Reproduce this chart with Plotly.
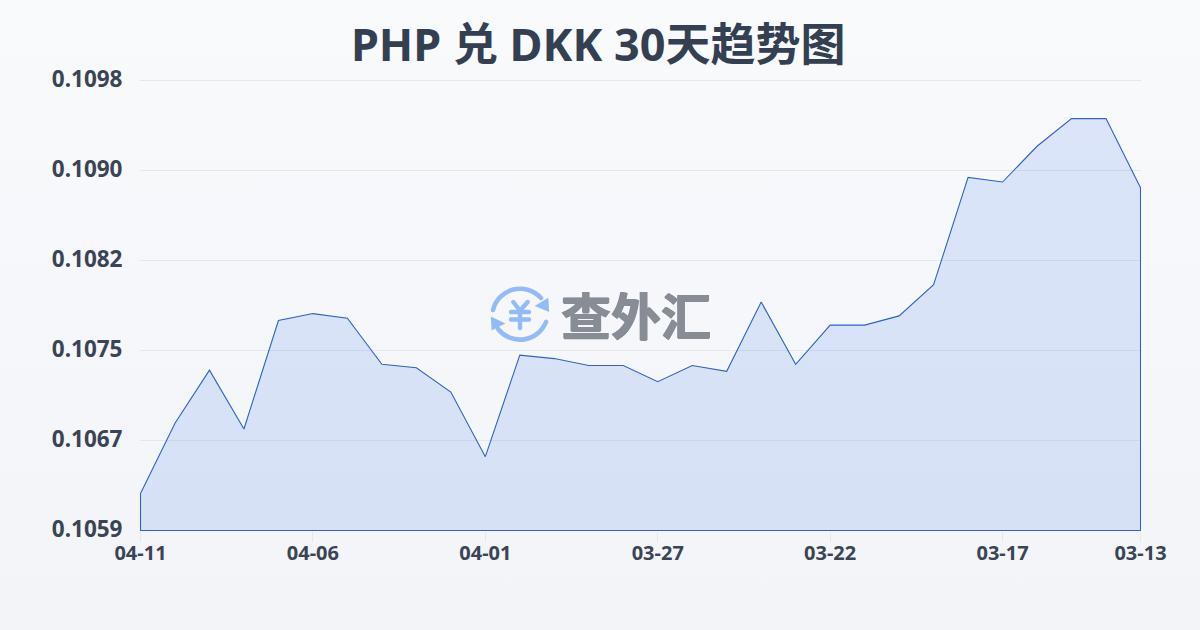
import base64
import plotly.graph_objects as go

dates = ["04-11","04-10","04-09","04-08","04-07","04-06","04-05","04-04","04-03","04-02",
         "04-01","03-31","03-30","03-29","03-28","03-27","03-26","03-25","03-24","03-23",
         "03-22","03-21","03-20","03-19","03-18","03-17","03-16","03-15","03-14","03-13"]
rates = [0.10622,0.10683,0.10729,0.10678,0.10772,0.10778,0.10774,0.10734,0.10731,0.10710,
         0.10654,0.10742,0.10739,0.10733,0.10733,0.10719,0.10733,0.10728,0.10788,0.10734,
         0.10768,0.10768,0.10776,0.10803,0.10896,0.10892,0.10923,0.10947,0.10947,0.10887]
x_ticks = ["04-11","04-06","04-01","03-27","03-22","03-17","03-13"]
y_min, y_max = 0.1059, 0.1098
y_ticks = [0.1059,0.10668,0.10746,0.10824,0.10902,0.1098]
y_labels = ["0.1059","0.1067","0.1075","0.1082","0.1090","0.1098"]
title = "PHP 兑 DKK 30天趋势图"
watermark = "查外汇"

FONT = "'Noto Sans','Noto Sans CJK SC',sans-serif"
W, H = 1200, 630
L, T, PW, PH = 140, 80, 1001, 451
x_pad = 0.5 * (len(dates) - 1) / (PW - 1)
y_pad = 0.5 * (y_max - y_min) / (PH - 1)

def uri(svg):
    return "data:image/svg+xml;base64," + base64.b64encode(svg.encode()).decode()

bg = f'''<svg xmlns="http://www.w3.org/2000/svg" width="{W}" height="{H}" preserveAspectRatio="none">
<defs><linearGradient id="g" x1="0" y1="0" x2="0" y2="1"><stop offset="0" stop-color="#f8fafc"/><stop offset="1" stop-color="#f2f4f8"/></linearGradient></defs>
<rect width="{W}" height="{H}" fill="url(#g)"/></svg>'''

logo = '''<svg xmlns="http://www.w3.org/2000/svg" width="70" height="70" viewBox="485 280 70 70">
<g fill="none" stroke="#93bbf8" stroke-width="4.6" stroke-linecap="round" stroke-linejoin="round">
<path d="M493 310 A28 28 0 0 1 541 298"/>
<path d="M546 322 A28 28 0 0 1 498 329"/>
<path d="M513.3 302 L520 310.5 L527.7 302 M511 312 H529 M511 319.5 H529 M520 310.5 V328" stroke-width="4.4"/>
</g>
<path d="M548.3 297.8 L549.2 312 L534.6 306 Z M490.8 316.4 L491.6 330.4 L505.4 323.4 Z" fill="#93bbf8"/>
</svg>'''

fig = go.Figure()
fig.add_trace(go.Scatter(
    x=dates + [dates[-1], dates[0], dates[0]],
    y=rates + [y_min, y_min, rates[0]],
    mode="lines", fill="toself",
    fillcolor="rgba(37,99,235,0.135)",
    line=dict(color="#2f62c8", width=1.1),
    cliponaxis=False,
    hoverinfo="skip", showlegend=False,
))

fig.update_layout(
    width=W, height=H, autosize=False,
    margin=dict(l=L, r=W-L-PW, t=T, b=H-T-PH, pad=0),
    paper_bgcolor="#f6f8fa", plot_bgcolor="rgba(0,0,0,0)",
    font=dict(family=FONT),
    title=dict(text=title, x=0.4985, xanchor="center", xref="container", y=1-45/H, yanchor="middle", yref="container",
               font=dict(family=FONT, size=45, color="#343f52", weight="bold")),
    xaxis=dict(type="category", categoryorder="array", categoryarray=dates,
               range=[-x_pad, len(dates)-1+x_pad],
               tickmode="array", tickvals=x_ticks, ticktext=x_ticks,
               ticks="outside", ticklen=10, tickcolor="#e5e7eb", tickwidth=1, ticklabelstandoff=-6,
               showgrid=False, zeroline=False, showline=False,
               tickfont=dict(family=FONT, size=20, color="#3a4454", weight="bold")),
    yaxis=dict(range=[y_min-y_pad, y_max+y_pad], tickmode="array", tickvals=y_ticks, ticktext=y_labels,
               gridcolor="#e5e7eb", gridwidth=1, zeroline=False, showline=False,
               ticks="outside", ticklen=12, tickcolor="rgba(0,0,0,0)", ticklabelshift=-1,
               tickfont=dict(family=FONT, size=22.5, color="#3a4454", weight="bold")),
    shapes=[dict(type="line", xref="paper", x0=0, x1=1, yref="paper", y0=1-0.5/PH, y1=1-0.5/PH,
                 line=dict(color="#e5e7eb", width=1), layer="below")],
    images=[
        dict(source=uri(bg), xref="paper", yref="paper", x=-L/PW, y=1+T/PH, sizex=W/PW, sizey=H/PH,
             xanchor="left", yanchor="top", sizing="stretch", layer="below"),
        dict(source=uri(logo), xref="paper", yref="paper", x=(485-L)/PW, y=(T+PH-280)/PH, sizex=70/PW, sizey=70/PH,
             xanchor="left", yanchor="top", sizing="stretch", layer="above"),
    ],
    annotations=[dict(text=watermark, xref="paper", yref="paper", x=(636-L)/PW, y=(T+PH-313)/PH,
                      xanchor="center", yanchor="middle", showarrow=False,
                      font=dict(family="'Noto Sans CJK SC',sans-serif", size=50, color="#878c95", weight="bold",
                                shadow="0.7px 0 0 #878c95, -0.7px 0 0 #878c95, 0 0.5px 0 #878c95"))],
)
fig.write_html("out.html", config={"displayModeBar": False},
               post_script="document.documentElement.style.margin='0';document.body.style.margin='0';document.body.style.background='#f6f8fa';")
